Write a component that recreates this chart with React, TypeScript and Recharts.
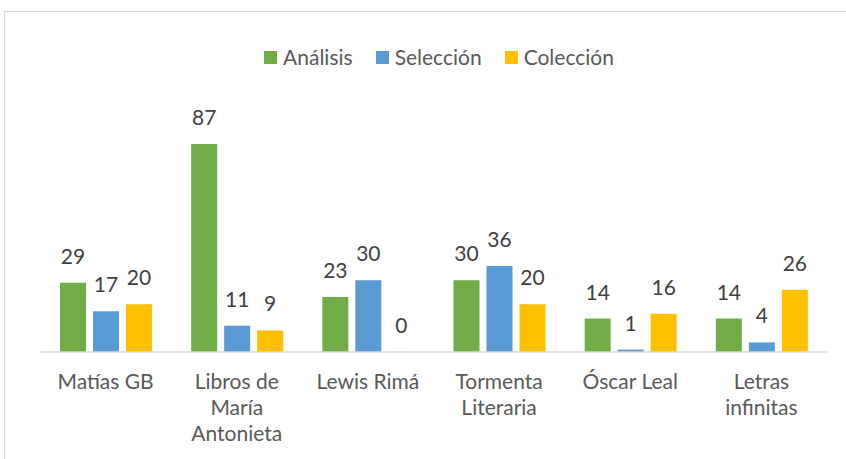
import { BarChart, Bar, XAxis, YAxis, Legend, LabelList } from 'recharts'

const categories = [
  'Matías GB',
  'Libros de María Antonieta',
  'Lewis Rimá',
  'Tormenta Literaria',
  'Óscar Leal',
  'Letras infinitas',
]
const analisis = [29, 87, 23, 30, 14, 14]
const seleccion = [17, 11, 30, 36, 1, 4]
const coleccion = [20, 9, 0, 20, 16, 26]

const series = [
  { key: 'analisis', name: 'Análisis', color: '#70AD47' },
  { key: 'seleccion', name: 'Selección', color: '#5B9BD5' },
  { key: 'coleccion', name: 'Colección', color: '#FFC000' },
]

const FONT = 'Lato, "Open Sans", sans-serif'
const TEXT = '#595959'

const data = categories.map((name, i) => ({
  name,
  analisis: analisis[i],
  seleccion: seleccion[i],
  coleccion: coleccion[i],
}))

// Wrap category names the way the source chart does (about 10 chars per line)
function wrapLabel(text: string, max = 10): string[] {
  const words = text.split(' ')
  const lines: string[] = []
  let cur = ''
  for (const w of words) {
    const next = cur ? `${cur} ${w}` : w
    if (next.length > max && cur) {
      lines.push(cur)
      cur = w
    } else {
      cur = next
    }
  }
  if (cur) lines.push(cur)
  return lines
}

function CategoryTick(props: any) {
  const { x, y, payload } = props
  const lines = wrapLabel(String(payload.value))
  return (
    <text x={x} y={y} textAnchor="middle" fill={TEXT} fontSize={21} fontFamily={FONT}>
      {lines.map((line, i) => (
        <tspan key={i} x={x} y={y + 29 + i * 26}>
          {line}
        </tspan>
      ))}
    </text>
  )
}

function LegendContent() {
  return (
    <div style={{ display: 'flex', justifyContent: 'center', paddingLeft: 11, fontFamily: FONT, fontSize: 21, color: TEXT, lineHeight: '26px' }}>
      {series.map((s, i) => (
        <div key={s.key} style={{ display: 'flex', alignItems: 'center', marginLeft: i === 0 ? 0 : 23 }}>
          <span style={{ width: 13, height: 13, background: s.color, marginRight: 6, display: 'inline-block' }} />
          <span>{s.name}</span>
        </div>
      ))}
    </div>
  )
}

const labelStyle = { fill: '#404040', fontSize: 21, fontFamily: FONT }

// zero-height bars still need their "0" label, so give them a hairline height
const minSize = (value: any) => (value === 0 ? 0.1 : 0)

export default function App() {
  return (
    <div style={{ position: 'fixed', left: 0, top: 0, width: 846, height: 459, background: '#fff', overflow: 'hidden' }}>
      <div
        style={{
          position: 'absolute',
          left: 4,
          top: 11,
          width: 900,
          height: 500,
          border: '1px solid #d9d9d9',
        }}
      />
      <BarChart
        width={846}
        height={459}
        data={data}
        margin={{ top: 87, right: 19, bottom: 17, left: 40 }}
        barSize={26}
        barGap={7}
      >
        <XAxis
          dataKey="name"
          axisLine={{ stroke: '#d9d9d9', strokeWidth: 1.5 }}
          tickLine={false}
          tick={<CategoryTick />}
          interval={0}
          height={90}
        />
        <YAxis hide domain={[0, 100]} />
        <Legend verticalAlign="top" align="center" wrapperStyle={{ top: 44 }} content={<LegendContent />} />
        {series.map((s) => (
          <Bar
            key={s.key}
            dataKey={s.key}
            name={s.name}
            fill={s.color}
            minPointSize={minSize}
            isAnimationActive={false}
          >
            <LabelList dataKey={s.key} position="top" offset={19} style={labelStyle} />
          </Bar>
        ))}
      </BarChart>
    </div>
  )
}
